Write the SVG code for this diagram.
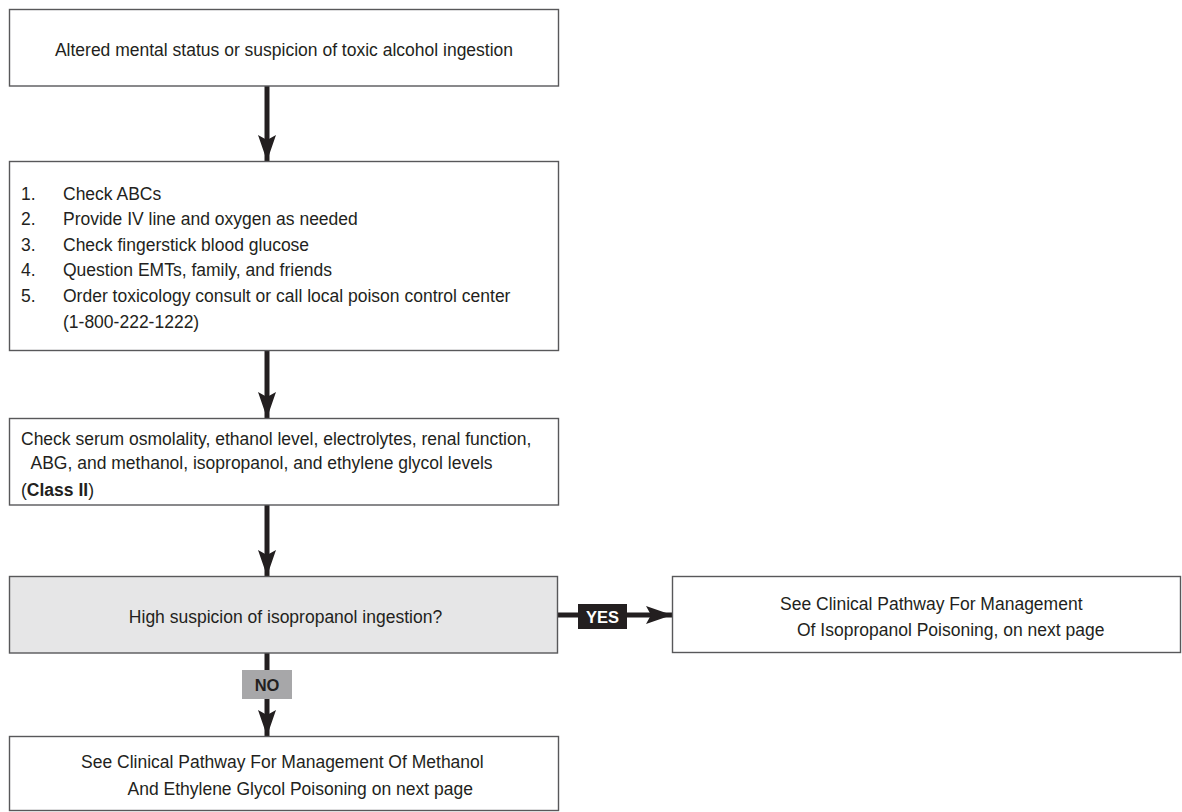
<svg xmlns="http://www.w3.org/2000/svg" width="1182" height="812" viewBox="0 0 1182 812">
<style>
.box{fill:#ffffff;stroke:#58585a;stroke-width:1.4}
.dec{fill:#e6e6e7;stroke:#58585a;stroke-width:1.4}
text{font-family:"Liberation Sans",Arial,Helvetica,sans-serif;font-size:17.5px;fill:#231f20}
.c{text-anchor:middle}
.lbl{font-weight:bold;font-size:16.5px;text-anchor:middle}
.conn{stroke:#231f20;stroke-width:5;fill:none}
</style>
<defs>
<marker id="ah" markerUnits="userSpaceOnUse" markerWidth="26" markerHeight="20" viewBox="0 0 26 20" refX="26" refY="10" orient="auto">
<path d="M0,1 L26,10 L0,19 L5,10 Z" fill="#231f20"/>
</marker>
</defs>
<rect width="1182" height="812" fill="#ffffff"/>
<g id="connectors">
<line class="conn" x1="267" y1="86" x2="267" y2="161" marker-end="url(#ah)"/>
<line class="conn" x1="267" y1="351" x2="267" y2="418" marker-end="url(#ah)"/>
<line class="conn" x1="267" y1="505" x2="267" y2="576" marker-end="url(#ah)"/>
<line class="conn" x1="557" y1="615" x2="672" y2="615" marker-end="url(#ah)"/>
<line class="conn" x1="267" y1="653" x2="267" y2="736" marker-end="url(#ah)"/>
</g>
<g id="n1">
<rect class="box" x="9.5" y="9.5" width="549" height="76.5"/>
<text class="c" x="284" y="55.5">Altered mental status or suspicion of toxic alcohol ingestion</text>
</g>
<g id="n2">
<rect class="box" x="9.5" y="161.5" width="549" height="189"/>
<text x="21" y="199.5">1.</text><text x="63" y="199.5">Check ABCs</text>
<text x="21" y="225">2.</text><text x="63" y="225">Provide IV line and oxygen as needed</text>
<text x="21" y="250.5">3.</text><text x="63" y="250.5">Check fingerstick blood glucose</text>
<text x="21" y="276">4.</text><text x="63" y="276">Question EMTs, family, and friends</text>
<text x="21" y="301.5">5.</text><text x="63" y="301.5">Order toxicology consult or call local poison control center</text>
<text x="63" y="327.5">(1-800-222-1222)</text>
</g>
<g id="n3">
<rect class="box" x="9.5" y="418.5" width="549" height="86.5"/>
<text x="21" y="444.5">Check serum osmolality, ethanol level, electrolytes, renal function,</text>
<text x="30.5" y="469">ABG, and methanol, isopropanol, and ethylene glycol levels</text>
<text x="21" y="495.5">(<tspan font-weight="bold">Class II</tspan>)</text>
</g>
<g id="n4">
<rect class="dec" x="9.5" y="576.5" width="548" height="76.5"/>
<text class="c" x="285.5" y="622.5">High suspicion of isopropanol ingestion?</text>
</g>
<g id="yes">
<rect x="578" y="604" width="49" height="25" fill="#231f20"/>
<text class="lbl" x="602.5" y="622.5" style="fill:#ffffff">YES</text>
</g>
<g id="n5">
<rect class="box" x="672.5" y="576.5" width="508" height="76"/>
<text x="780" y="609.5">See Clinical Pathway For Management</text>
<text x="797" y="635.5">Of Isopropanol Poisoning, on next page</text>
</g>
<g id="no">
<rect x="242" y="670" width="50" height="29" fill="#a7a7a9"/>
<text class="lbl" x="267" y="690.5">NO</text>
</g>
<g id="n6">
<rect class="box" x="9.5" y="736.5" width="549" height="74"/>
<text x="81" y="768">See Clinical Pathway For Management Of Methanol</text>
<text x="127.5" y="794.5">And Ethylene Glycol Poisoning on next page</text>
</g>
</svg>
